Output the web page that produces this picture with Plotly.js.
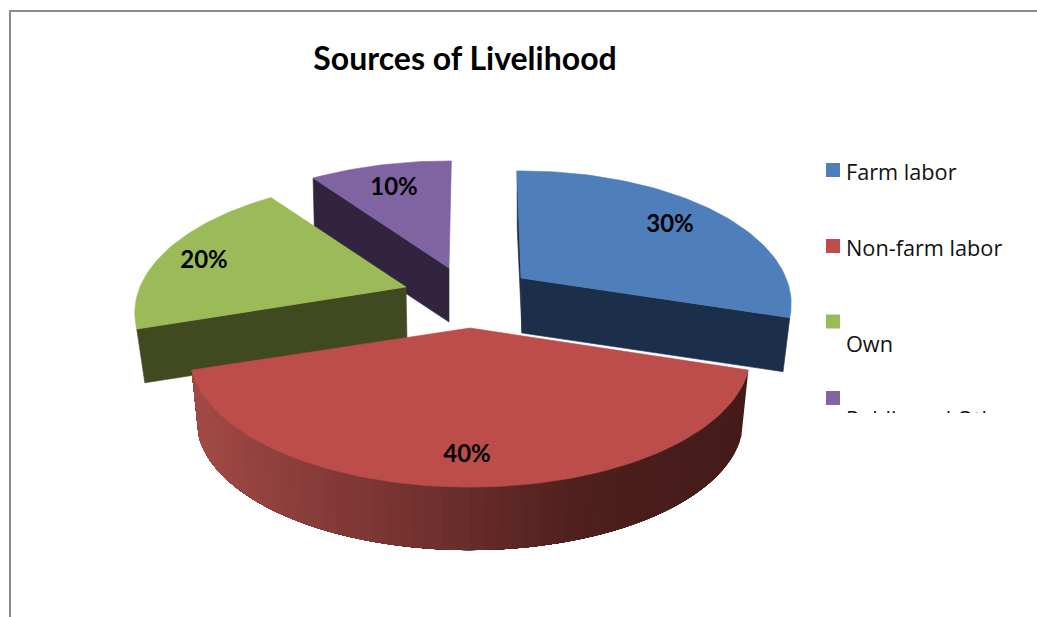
<!DOCTYPE html>
<html>
<head>
<meta charset="utf-8">
<script src="https://cdn.plot.ly/plotly-3.0.1.min.js"></script>
<style>html,body{margin:0;padding:0;background:#fff;overflow:hidden}#chart{width:1037px;height:617px}</style>
</head>
<body>
<div id="chart"></div>
<script>
// ---- data ----
const categories = ["Farm labor", "Non-farm labor", "Own", "Public and Other"];
const shares = [30, 40, 20, 10];
const chartTitle = "Sources of Livelihood";

// ---- styles ----
const topColors = ["#4F7FBB", "#BC4D4A", "#9BBB59", "#8064A2"];
const sideColors = ["#1C2F4A", "#4A1C1A", "#3F4A20", "#32243F"];
const rimStops = [[0, "#431B19"], [0.3, "#4E1F1D"], [0.55, "#6E2F2C"], [0.8, "#8A3D3A"], [1, "#A34A46"]];

// ---- pseudo-3D layout: apex, radius and thickness of every exploded slice, in page pixels ----
const apexX = [521, 470, 406, 449];
const apexY = [278, 328, 287, 268];
const lowDx = [1, 0, 1, 0];
const radius = [265, 275, 266, 272];
const thick = [55, 67, 55, 54];
const shrink = [0.975, 0.975, 0.97, 0.99];
const turn = [-1, 0, 0, 0.6];
const tilt = 128, persp = 0.1955;
const labelX = [670, 467, 204, 394];
const labelY = [226, 456, 262, 189];
const legendBoxY = [170, 246, 321.5, 398];
const legendTextY = [175, 251, 347, 411];
const legendTextPos = ["middle right", "middle right", "middle right", "bottom right"];

function topPt(i, deg) {
  const t = deg * Math.PI / 180, X = Math.sin(t), Y = Math.cos(t), w = 1 + persp * Y;
  return [apexX[i] + radius[i] * X / w, apexY[i] - tilt * Y / w];
}
function lowPt(i, deg) {
  const p = topPt(i, deg);
  return [apexX[i] + (p[0] - apexX[i]) * shrink[i], apexY[i] + (p[1] - apexY[i]) * shrink[i] + thick[i]];
}
const apexTop = i => [apexX[i], apexY[i]];
const apexLow = i => [apexX[i] + lowDx[i], apexY[i] + thick[i]];

function poly(pts, color, lw) {
  return {
    type: "scatter", mode: "lines", x: pts.map(p => p[0]), y: pts.map(p => p[1]),
    fill: "toself", fillcolor: color, line: {color: color, width: lw === undefined ? 0.6 : lw},
    hoverinfo: "skip", showlegend: false
  };
}
function arc(i, a, b, fn) {
  const out = [], n = Math.max(4, Math.ceil(Math.abs(b - a) / 1.5));
  for (let k = 0; k <= n; k++) out.push(fn(i, a + (b - a) * k / n));
  return out;
}
function hex(c) { return [1, 3, 5].map(o => parseInt(c.substr(o, 2), 16)); }
function rimColor(f) {
  for (let k = 1; k < rimStops.length; k++) {
    if (f <= rimStops[k][0]) {
      const a = rimStops[k - 1], b = rimStops[k], m = (f - a[0]) / (b[0] - a[0]);
      const A = hex(a[1]), B = hex(b[1]);
      return "rgb(" + A.map((v, j) => Math.round(v + (B[j] - v) * m)).join(",") + ")";
    }
  }
  return rimStops[rimStops.length - 1][1];
}

// slice angles follow from the shares
const total = shares.reduce((a, b) => a + b, 0);
const startA = [], endA = [];
shares.reduce((acc, v, i) => {
  startA[i] = turn[i] + acc / total * 360;
  endA[i] = turn[i] + (acc + v) / total * 360;
  return acc + v;
}, 0);

const traces = [];
const topFace = i => poly([apexTop(i)].concat(arc(i, startA[i], endA[i], topPt)).concat([apexTop(i)]), topColors[i]);
// radial wall seen at angle a
const wall = (i, a) => poly([apexTop(i), topPt(i, a), lowPt(i, a), apexLow(i), apexTop(i)], sideColors[i]);

// back to front
traces.push(wall(3, startA[3]), topFace(3));
traces.push(wall(2, startA[2]), topFace(2));
traces.push(wall(0, startA[0]), wall(0, endA[0]), topFace(0));
// front slice: shaded outer rim, each band painted over the previous one so no seams show
const stripCount = 60;
for (let k = 0; k < stripCount; k++) {
  const a = startA[1] + (endA[1] - startA[1]) * k / stripCount;
  const b = startA[1] + (endA[1] - startA[1]) * (k + 1) / stripCount;
  const pts = arc(1, a, endA[1], topPt).concat(arc(1, endA[1], a, lowPt));
  pts.push(pts[0]);
  const xm = (topPt(1, a)[0] + topPt(1, b)[0]) / 2;
  const f = (apexX[1] + radius[1] * 1.02 - xm) / (2 * radius[1] * 1.02);
  traces.push(poly(pts, rimColor(f), 0));
}
traces.push(topFace(1));

// percentage labels
traces.push({
  type: "scatter", mode: "text", x: labelX, y: labelY,
  text: shares.map(v => v + "%"), textposition: "middle center",
  textfont: {family: "Lato, sans-serif", size: 24, color: "#000", weight: 700},
  hoverinfo: "skip", showlegend: false, cliponaxis: false
});
// legend keys
traces.push({
  type: "scatter", mode: "markers", x: categories.map(() => 833), y: legendBoxY,
  marker: {symbol: "square", size: 14, color: topColors, line: {width: 0}},
  hoverinfo: "skip", showlegend: false, cliponaxis: false
});
// legend texts, cut off at the bottom of the legend box as in the picture
traces.push({
  type: "scatter", mode: "text", xaxis: "x2", yaxis: "y2",
  x: categories.map(() => 846), y: legendTextY,
  text: categories, textposition: legendTextPos,
  textfont: {family: "'Open Sans', sans-serif", size: 21.7, color: "#111"},
  hoverinfo: "skip", showlegend: false, cliponaxis: true
});

const hidden = {visible: false, fixedrange: true, showgrid: false, zeroline: false};
const layout = {
  width: 1037, height: 617,
  margin: {l: 0, r: 0, t: 0, b: 0, pad: 0},
  paper_bgcolor: "#fff", plot_bgcolor: "rgba(0,0,0,0)",
  showlegend: false,
  title: {
    text: chartTitle, xref: "paper", yref: "paper",
    x: 465 / 1037, xanchor: "center", y: 1 - 59 / 617, yanchor: "middle",
    font: {family: "Lato, sans-serif", size: 32, color: "#000", weight: 700}
  },
  xaxis: Object.assign({range: [0, 1037], domain: [0, 1], anchor: "y"}, hidden),
  yaxis: Object.assign({range: [617, 0], domain: [0, 1], anchor: "x"}, hidden),
  xaxis2: Object.assign({range: [0, 1037], domain: [0, 1], anchor: "y2"}, hidden),
  yaxis2: Object.assign({range: [413, 0], domain: [1 - 413 / 617, 1], anchor: "x2"}, hidden),
  shapes: [
    {type: "line", xref: "x", yref: "y", x0: 10, x1: 1037, y0: 11, y1: 11, line: {color: "#8c8c8c", width: 2}},
    {type: "line", xref: "x", yref: "y", x0: 10, x1: 10, y0: 10, y1: 617, line: {color: "#8c8c8c", width: 2}}
  ]
};
Plotly.newPlot("chart", traces, layout, {displayModeBar: false, staticPlot: true});
</script>
</body>
</html>
